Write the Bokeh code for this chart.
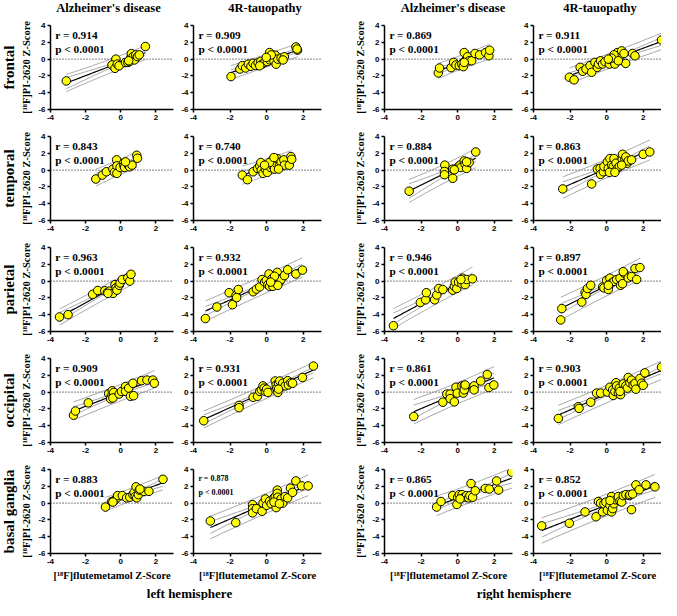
import numpy as np
from bokeh.plotting import figure
from bokeh.layouts import column, row
from bokeh.models import Range1d, FixedTicker, Span, Label, Title
from bokeh.embed import file_html
from bokeh.resources import INLINE
from bokeh.core.validation import silence
from bokeh.core.validation.warnings import MISSING_RENDERERS

silence(MISSING_RENDERERS, True)

# ---------------- text ----------------
regions = ["frontal", "temporal", "parietal", "occipital", "basal ganglia"]
col_titles = ["Alzheimer's disease", "4R-tauopathy", "Alzheimer's disease", "4R-tauopathy"]
hemispheres = ["left hemisphere", "right hemisphere"]
x_label = "[¹⁸F]flutemetamol Z-Score"
y_label = "[¹⁸F]PI-2620 Z-Score"
x_ticks = [-4, -2, 0, 2]
y_ticks = [-6, -4, -2, 0, 2, 4]
r_texts = [
    ["r = 0.914", "r = 0.909", "r = 0.869", "r = 0.911"],
    ["r = 0.843", "r = 0.740", "r = 0.884", "r = 0.863"],
    ["r = 0.963", "r = 0.932", "r = 0.946", "r = 0.897"],
    ["r = 0.909", "r = 0.931", "r = 0.861", "r = 0.903"],
    ["r = 0.883", "r = 0.878", "r = 0.865", "r = 0.852"],
]
p_text = "p < 0.0001"

# ---------------- data (flutemetamol x, PI-2620 y) ----------------
frontal_ad_l_x = [-3.1, -0.28, -0.5, -0.33, -0.2, -0.1, 0.27, 0.4, 0.5, 0.58, 0.6, 0.7, 0.78, 0.85, 0.95, 1.05, 1.4, 0.45]
frontal_ad_l_y = [-2.6, 0.0, -0.7, -1.1, -0.6, -0.8, -0.4, -0.4, -0.3, 0.2, 0.65, 0.3, -0.1, 0.5, 0.3, 0.5, 1.5, -0.2]
frontal_4r_l_x = [-1.95, -1.46, -1.33, -1.15, -1.0, -0.86, -0.74, -0.61, -0.47, -0.32, -0.25, -0.11, 0.04, 0.16, 0.16, 0.29, 0.4, 0.47, 0.52, 0.61, 0.79, 0.97, 0.9, 1.6, 1.69, 1.66, 0.25, -0.02, -0.38]
frontal_4r_l_y = [-2.08, -1.18, -0.78, -1.06, -0.6, -0.86, -0.5, -0.75, -0.43, -0.27, -0.6, -0.4, -0.3, -0.08, 0.78, 0.27, -0.2, 0.47, -0.6, 0.0, 0.12, 0.27, -0.1, 1.45, 1.06, 1.2, 0.5, 0.2, -0.8]
frontal_ad_r_x = [-1.06, -0.99, -0.36, -0.22, -0.09, 0.09, 0.23, 0.31, 0.36, 0.41, 0.49, 0.54, 0.63, 0.77, 0.95, 1.2, 1.53, 1.71, 1.75, 0.36]
frontal_ad_r_y = [-1.65, -1.06, -1.02, -0.39, -0.7, -0.78, -0.59, -0.9, 0.78, -0.2, 0.0, 0.27, -0.2, -0.2, 0.67, 0.5, 0.78, 0.4, 1.06, -0.4]
frontal_4r_r_x = [-2.04, -1.78, -1.45, -1.31, -1.13, -0.91, -0.82, -0.64, -0.51, -0.45, -0.33, -0.22, -0.09, 0.15, 0.22, 0.33, 0.36, 0.45, 0.55, 0.58, 0.73, 0.82, 0.95, 1.04, 1.42, 1.55, 3.0, 0.4, 0.27, 0.64, 0.09]
frontal_4r_r_y = [-2.16, -2.47, -0.98, -1.45, -1.18, -0.78, -1.57, -0.39, -0.98, -0.59, -0.2, -0.59, -0.31, -0.59, 0.0, -0.2, 0.27, -0.59, 0.0, 0.78, 0.39, 0.98, 0.67, -0.51, 0.67, 0.39, 2.27, 0.51, 0.12, -0.2, 0.0]

temporal_ad_l_x = [-1.42, -1.05, -0.82, -0.45, -0.36, -0.24, -0.22, -0.22, -0.04, 0.15, 0.18, 0.22, 0.45, 0.51, 0.64, 0.91, 0.95, 0.27]
temporal_ad_l_y = [-1.06, -0.59, -0.2, 0.12, -0.27, 1.22, 0.51, -0.39, 0.31, 0.82, 0.51, 0.31, 0.51, 0.39, 0.59, 1.76, 1.41, 0.98]
temporal_4r_l_x = [-1.33, -1.05, -0.74, -0.5, -0.38, -0.32, -0.29, -0.2, -0.07, 0.04, 0.22, 0.34, 0.43, 0.31, 0.52, 0.58, 0.7, 0.79, 0.94, 0.97, 1.24, 1.33, 1.37, 0.16, -0.11, 0.4, 0.65]
temporal_4r_l_y = [-0.59, -1.14, -0.2, 0.2, 0.51, 0.9, 0.0, -0.39, 0.12, -0.27, 0.31, 0.51, 0.12, 1.18, 0.82, 1.37, 0.51, 0.98, 1.22, 0.59, 0.59, 1.61, 1.29, 0.9, 0.59, 1.49, 0.12]
temporal_ad_r_x = [-2.65, -0.7, -0.72, -0.72, -0.27, -0.27, 0.05, 0.13, 0.18, 0.36, 0.41, 0.49, 0.63, 0.49, 0.99, -0.18]
temporal_ad_r_y = [-2.51, 0.59, -0.16, -0.55, 0.12, -0.98, 0.43, 0.59, 0.31, 1.1, 0.71, 0.2, 0.9, 0.98, 2.16, 0.04]
temporal_4r_r_x = [-2.4, -0.82, -0.51, -0.36, -0.33, -0.18, -0.15, 0.04, 0.09, 0.18, 0.27, 0.36, 0.4, 0.51, 0.58, 0.69, 0.85, 0.87, 1.0, 1.05, 1.13, 1.18, 1.36, 0.82, 2.0, 2.36, 0.15, 0.45]
temporal_4r_r_y = [-2.24, -1.65, 0.12, 0.2, -0.51, -0.2, 0.43, 0.98, 0.2, 1.37, 0.59, 0.43, 1.37, 0.82, 0.2, 0.43, 1.29, 1.88, 1.29, 1.57, 0.82, 1.1, 1.22, 0.59, 1.88, 2.16, -0.27, -0.27]

parietal_ad_l_x = [-3.49, -3.0, -1.6, -1.31, -0.91, -0.76, -0.64, -0.45, -0.33, -0.27, -0.22, -0.09, -0.04, 0.09, 0.4, 0.51, 0.58, -0.73]
parietal_ad_l_y = [-4.27, -4.0, -1.58, -1.12, -1.15, -1.35, -1.19, -1.46, -0.42, -0.81, -1.08, -0.5, -0.23, 0.19, 0.38, 0.0, 0.81, -1.46]
parietal_4r_l_x = [-3.35, -2.72, -2.05, -1.87, -1.68, -1.64, -1.55, -0.74, -0.56, -0.38, -0.25, -0.11, -0.02, 0.07, 0.16, 0.13, 0.29, 0.34, 0.4, 0.58, 0.65, 0.72, 0.79, 0.97, 1.15, 1.6, 1.96, 0.61, 0.43, 0.22]
parietal_4r_l_y = [-4.46, -3.08, -1.38, -2.81, -1.73, -1.96, -1.0, -1.27, -0.96, -0.69, 0.19, -0.12, 0.08, -0.42, -0.62, 0.85, 0.27, -0.62, -0.04, 1.04, 0.27, -0.04, 0.19, 0.65, 1.35, 0.85, 1.31, -0.5, 0.58, -0.12]
parietal_ad_r_x = [-3.51, -2.04, -1.75, -1.71, -1.26, -1.14, -1.03, -0.81, -0.27, -0.18, -0.13, -0.05, 0.05, 0.23, 0.27, 0.41, 0.49, 0.81, 0.18]
parietal_ad_r_y = [-5.31, -2.54, -2.23, -1.38, -2.23, -1.65, -0.88, -1.0, -1.08, -0.62, -0.12, -0.88, -0.12, -0.31, 0.35, -0.42, 0.19, 0.27, 0.19]
parietal_4r_r_x = [-2.51, -2.45, -1.36, -1.18, -1.13, -1.05, -0.87, -0.22, -0.15, 0.0, 0.09, 0.15, 0.18, 0.27, 0.4, 0.55, 0.73, 0.76, 0.87, 0.95, 0.91, 1.18, 1.36, 1.55, 1.64, 1.82, 0.09]
parietal_4r_r_y = [-4.62, -3.27, -2.5, -1.35, -1.58, -0.88, -0.5, -0.69, -0.81, 0.08, -1.0, -0.31, 0.35, -0.23, -0.04, 0.19, 0.35, -0.5, -0.31, 0.96, 1.12, 0.38, 0.54, 1.5, 0.19, 1.62, -0.5]

occipital_ad_l_x = [-2.69, -2.58, -1.85, -0.69, -0.55, -0.49, -0.58, -0.4, -0.45, -0.09, 0.04, 0.27, 0.27, 0.45, 0.55, 0.69, 0.73, 1.18, 1.49, 1.82, 1.91]
occipital_ad_l_y = [-2.75, -2.25, -1.28, -0.19, -0.5, 0.16, -0.81, -0.04, -0.7, -0.23, 0.08, 0.66, 0.08, 0.47, -0.5, 1.05, -0.43, 1.36, 1.43, 1.43, 1.05]
occipital_4r_l_x = [-3.44, -1.51, -1.51, -0.74, -0.5, -0.38, -0.29, -0.2, -0.14, -0.07, 0.0, 0.07, 0.47, 0.52, 0.56, 0.61, 0.65, 0.72, 0.76, 0.88, 1.01, 1.15, 1.19, 1.33, 1.42, 1.96, 2.56, 0.65]
occipital_4r_l_y = [-3.41, -1.59, -1.86, -0.62, -0.5, 0.08, 0.27, 0.74, 0.47, 0.08, 0.35, -0.04, 1.32, 0.85, 0.47, -0.04, 1.05, 1.32, 0.58, 1.05, 0.74, 1.36, 0.85, 1.12, 1.05, 1.74, 3.1, 0.35]
occipital_ad_r_x = [-2.4, -0.81, -0.59, -0.41, -0.41, -0.18, -0.09, -0.02, 0.23, 0.31, 0.36, 0.36, 0.41, 0.9, 0.9, 1.26, 1.62, 1.71, 1.98]
occipital_ad_r_y = [-2.91, -1.2, -0.23, -0.23, -0.78, -1.16, 0.58, -0.12, 0.74, -0.12, 0.78, 0.27, 0.85, 0.74, 0.27, 1.32, 2.09, 0.54, 0.85]
occipital_4r_r_x = [-2.64, -1.55, -1.51, -0.87, -0.55, -0.33, 0.04, 0.18, 0.33, 0.36, 0.45, 0.51, 0.55, 0.64, 0.69, 0.76, 0.91, 1.05, 1.13, 1.18, 1.27, 1.36, 1.45, 1.55, 1.6, 1.82, 1.91, 2.0, 2.09, 3.0, 0.73]
occipital_4r_r_y = [-3.14, -1.74, -1.94, -1.2, -0.12, -0.12, 0.0, 0.58, 0.27, -0.39, 0.08, 1.12, 0.74, -0.12, 0.47, -0.31, 0.97, 0.74, 0.47, 1.74, 1.12, 1.43, 0.85, 1.05, 0.35, 1.63, 1.05, 0.81, 2.29, 2.98, 0.08]

basal_ad_l_x = [-0.87, -0.51, -0.36, -0.22, -0.18, 0.09, 0.33, 0.51, 0.69, 0.76, 0.82, 0.87, 0.91, 1.0, 1.05, 1.31, 1.6, 2.4, 1.09, -0.45]
basal_ad_l_y = [-0.47, 0.19, 0.31, 0.62, 0.89, 0.89, 0.62, 0.7, 1.01, 1.28, 0.78, 1.94, 0.62, 1.01, 1.55, 1.4, 1.4, 2.83, 1.67, 0.12]
basal_4r_l_x = [-3.08, -1.69, -0.77, -0.77, -0.77, -0.56, -0.25, -0.2, -0.07, 0.0, 0.16, 0.25, 0.4, 0.47, 0.52, 0.58, 0.58, 0.61, 0.65, 0.79, 0.88, 1.01, 1.15, 1.3, 1.42, 1.6, 1.91, 2.27, 0.4, 0.7]
basal_4r_l_y = [-2.13, -2.33, -0.19, -0.66, -1.16, -0.66, -0.97, 0.0, 0.5, -0.27, 0.23, -0.08, 0.62, 0.78, -0.54, 1.55, 1.16, 0.7, 0.12, 0.5, 0.0, 0.78, 0.62, 1.78, 1.28, 2.64, 2.05, 2.05, 0.12, -0.08]
basal_ad_r_x = [-1.15, -0.91, -0.27, -0.04, 0.0, 0.09, 0.24, 0.36, 0.49, 0.6, 0.67, 0.73, 0.82, 0.96, 1.51, 1.73, 2.13, 2.24, 2.96, 0.13]
basal_ad_r_y = [-0.47, 0.19, 0.89, -0.16, 0.7, 1.01, 1.01, 0.7, 0.89, 0.62, 0.89, 2.33, 0.7, 1.47, 1.74, 1.67, 2.64, 1.55, 3.68, 0.5]
basal_4r_r_x = [-3.55, -2.04, -1.18, -0.58, -0.45, -0.33, -0.22, -0.15, -0.04, 0.04, 0.18, 0.27, 0.27, 0.33, 0.4, 0.51, 0.64, 0.73, 0.82, 0.91, 1.05, 1.24, 1.27, 1.36, 1.42, 1.6, 1.78, 2.15, 2.64, 0.18]
basal_4r_r_y = [-2.71, -2.4, -1.05, -1.63, 0.19, 0.0, -1.05, -0.08, 0.12, -0.85, -0.27, -1.05, 0.78, -0.66, -0.08, 0.39, 0.78, 0.23, 0.12, 0.89, 1.01, 0.89, 1.01, -0.78, 1.09, 2.17, 1.59, 2.17, 1.94, 0.31]

panel_data = [
    [(frontal_ad_l_x, frontal_ad_l_y), (frontal_4r_l_x, frontal_4r_l_y), (frontal_ad_r_x, frontal_ad_r_y), (frontal_4r_r_x, frontal_4r_r_y)],
    [(temporal_ad_l_x, temporal_ad_l_y), (temporal_4r_l_x, temporal_4r_l_y), (temporal_ad_r_x, temporal_ad_r_y), (temporal_4r_r_x, temporal_4r_r_y)],
    [(parietal_ad_l_x, parietal_ad_l_y), (parietal_4r_l_x, parietal_4r_l_y), (parietal_ad_r_x, parietal_ad_r_y), (parietal_4r_r_x, parietal_4r_r_y)],
    [(occipital_ad_l_x, occipital_ad_l_y), (occipital_4r_l_x, occipital_4r_l_y), (occipital_ad_r_x, occipital_ad_r_y), (occipital_4r_r_x, occipital_4r_r_y)],
    [(basal_ad_l_x, basal_ad_l_y), (basal_4r_l_x, basal_4r_l_y), (basal_ad_r_x, basal_ad_r_y), (basal_4r_r_x, basal_4r_r_y)],
]

# ---------------- styling / layout ----------------
SERIF = "Liberation Serif"
SANS = "Liberation Sans"
FRAME_W, FRAME_H = 128, 84
LEFT_B = [45, 17, 60, 18]
RIGHT_B = [3, 3, 3, 0]
COL_W = [LEFT_B[i] + FRAME_W + RIGHT_B[i] for i in range(4)]
HEADER_LEFT = [40, 29, 66, 23]
TOP_B = 8
BOTTOM_B = 19
BOTTOM_B_LAST = 30


def t975(df):
    z = 1.959963985
    g1 = (z**3 + z) / 4
    g2 = (5 * z**5 + 16 * z**3 + 3 * z) / 96
    g3 = (3 * z**7 + 19 * z**5 + 17 * z**3 - 15 * z) / 384
    g4 = (79 * z**9 + 776 * z**7 + 1482 * z**5 - 1920 * z**3 - 945 * z) / 92160
    return z + g1 / df + g2 / df**2 + g3 / df**3 + g4 / df**4


def fit_bands(x, y):
    x = np.asarray(x, float)
    y = np.asarray(y, float)
    n = len(x)
    slope, icpt = np.polyfit(x, y, 1)
    res = y - (slope * x + icpt)
    s = np.sqrt(np.sum(res**2) / (n - 2))
    xm = x.mean()
    sxx = np.sum((x - xm) ** 2)
    xs = np.linspace(x.min(), x.max(), 80)
    yf = slope * xs + icpt
    t = t975(n - 2)
    ci = t * s * np.sqrt(1.0 / n + (xs - xm) ** 2 / sxx)
    pi = t * s * np.sqrt(1.0 + 1.0 / n + (xs - xm) ** 2 / sxx)
    return xs, yf, ci, pi


def style_axis(ax, ticks):
    ax.ticker = FixedTicker(ticks=ticks)
    ax.major_label_overrides = {t: str(t) for t in ticks}
    ax.axis_line_width = 1.5
    ax.axis_line_color = "black"
    ax.major_tick_line_width = 1.5
    ax.major_tick_line_color = "black"
    ax.major_tick_out = 3
    ax.major_tick_in = 0
    ax.minor_tick_line_color = None
    ax.major_label_text_font = SANS
    ax.major_label_text_font_style = "bold"
    ax.major_label_text_font_size = "8px"
    ax.major_label_text_color = "black"
    ax.major_label_standoff = 2
    ax.axis_label_text_font = SERIF
    ax.axis_label_text_font_style = "bold"
    ax.axis_label_text_font_size = "10.5px"
    ax.axis_label_text_color = "black"
    ax.axis_label_standoff = 3


def make_panel(ri, ci):
    last = ri == len(regions) - 1
    bottom = BOTTOM_B_LAST if last else BOTTOM_B
    p = figure(width=COL_W[ci], height=TOP_B + FRAME_H + bottom,
               x_range=Range1d(-4, 3), y_range=Range1d(-6, 4),
               toolbar_location=None, output_backend="svg",
               min_border_left=LEFT_B[ci], min_border_right=RIGHT_B[ci],
               min_border_top=TOP_B, min_border_bottom=bottom)
    p.outline_line_color = None
    p.xgrid.visible = False
    p.ygrid.visible = False
    style_axis(p.xaxis[0], x_ticks)
    style_axis(p.yaxis[0], y_ticks)
    if last:
        p.xaxis.axis_label = x_label
    if ci in (0, 2):
        p.yaxis.axis_label = y_label
    if ci == 0:
        p.add_layout(Title(text=regions[ri], text_font=SERIF, text_font_style="bold",
                           text_font_size="15px", align="center", vertical_align="top",
                           standoff=0, text_color="black"), "left")

    p.add_layout(Span(location=0, dimension="width", line_color="black",
                      line_width=1, line_dash="1 2", level="underlay"))

    x, y = panel_data[ri][ci]
    xs, yf, ci95, pi95 = fit_bands(x, y)
    band_kw = dict(line_color="#8a8a8a", line_width=0.8)
    p.line(xs, yf + pi95, **band_kw)
    p.line(xs, yf - pi95, **band_kw)
    p.line(xs, yf + ci95, **band_kw)
    p.line(xs, yf - ci95, **band_kw)
    p.line(xs, yf, line_color="black", line_width=1.2)
    p.scatter(x, y, size=8.5, fill_color="#ffff00", line_color="black", line_width=1)

    small = (ri == 4 and ci == 1)
    fs = "8px" if small else "11.3px"
    ry, py = (2.95, 1.3) if small else (2.9, 1.15)
    p.add_layout(Label(x=-3.73, y=ry, text=r_texts[ri][ci], text_font=SERIF,
                       text_font_style="bold", text_font_size=fs, text_color="black",
                       text_baseline="alphabetic"))
    p.add_layout(Label(x=-3.73, y=py, text=p_text, text_font=SERIF,
                       text_font_style="bold", text_font_size=fs, text_color="black",
                       text_baseline="alphabetic"))
    return p


def blank(width, height, text, left_b, location, size, valign):
    p = figure(width=width, height=height, toolbar_location=None, output_backend="svg",
               x_axis_location=None, y_axis_location=None, title=text,
               title_location=location, min_border_left=left_b, min_border_right=0,
               min_border_top=0, min_border_bottom=0)
    p.outline_line_color = None
    p.grid.visible = False
    p.title.text_font = SERIF
    p.title.text_font_style = "bold"
    p.title.text_font_size = size
    p.title.text_color = "black"
    p.title.align = "center"
    p.title.vertical_align = valign
    p.title.standoff = 0
    return p


header = row([blank(COL_W[i], 17, col_titles[i], HEADER_LEFT[i], "above", "12.5px", "top")
              for i in range(4)])
grid_rows = [row([make_panel(ri, ci) for ci in range(4)]) for ri in range(len(regions))]
hemi = row([blank(COL_W[0] + COL_W[1], 17, hemispheres[0], 54, "below", "13px", "bottom"),
            blank(COL_W[2] + COL_W[3], 17, hemispheres[1], 62, "below", "13px", "bottom")])

layout = column([header] + grid_rows + [hemi])

open("out.html", "w").write(file_html(layout, INLINE))
